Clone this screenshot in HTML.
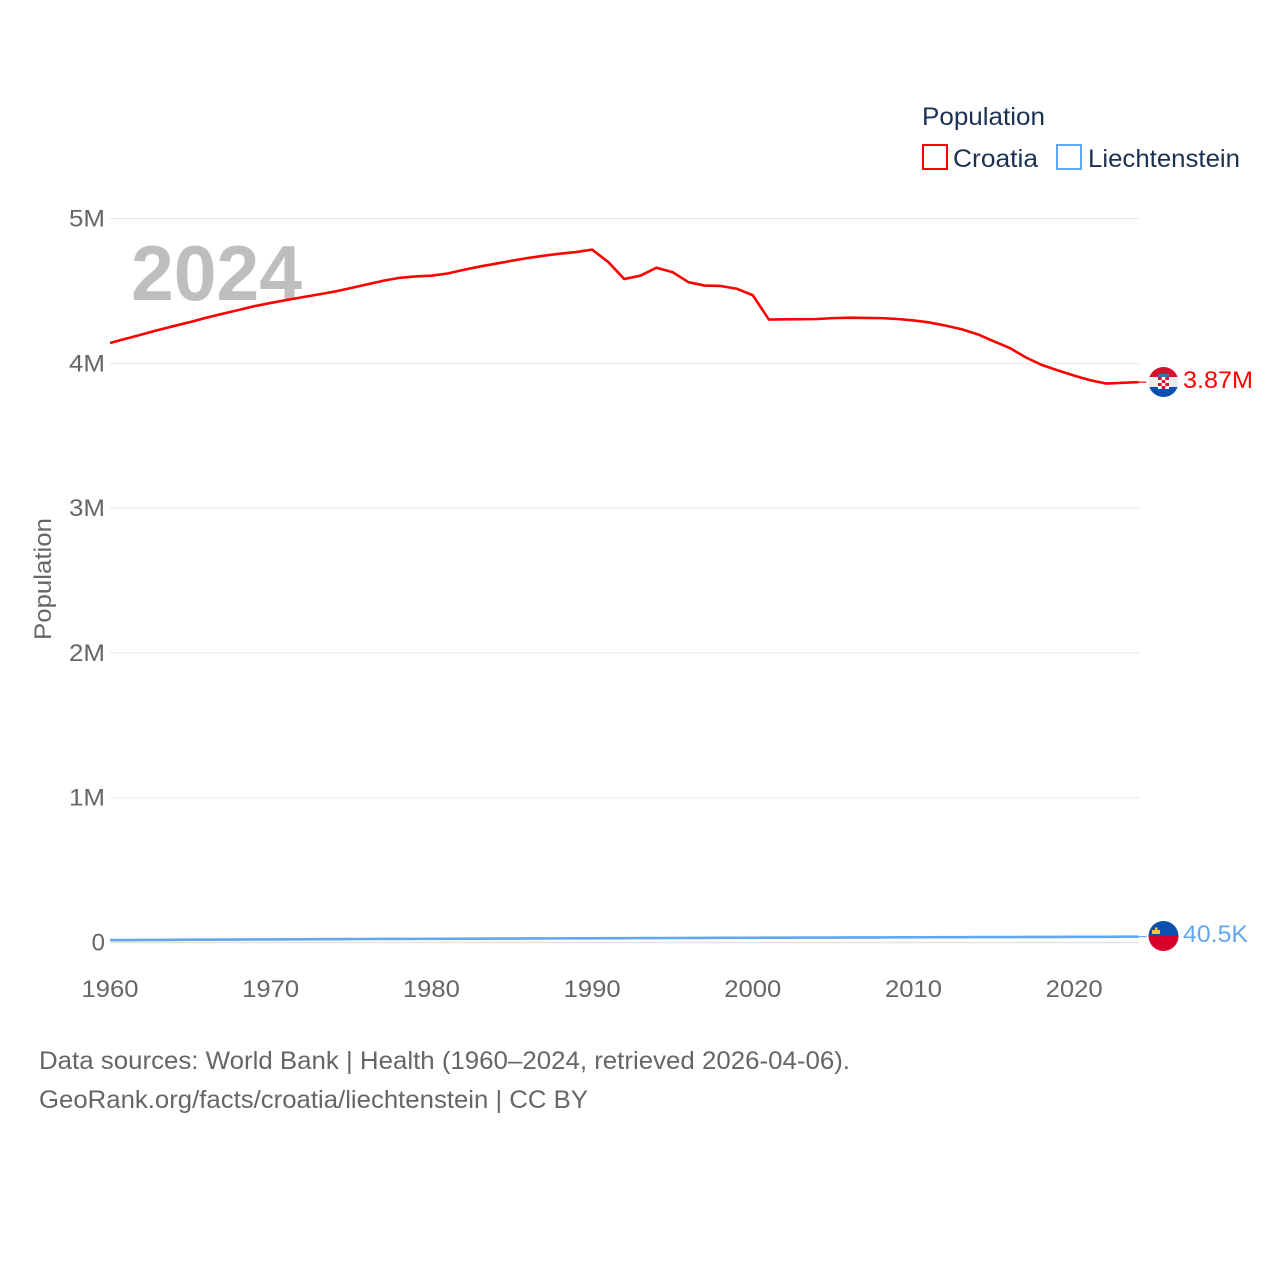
<!DOCTYPE html>
<html lang="en">
<head>
<meta charset="utf-8">
<title>Population: Croatia and Liechtenstein</title>
<style>
html,body{margin:0;padding:0;background:#fff}
svg{display:block}
text{font-family:"Liberation Sans",sans-serif}
</style>
</head>
<body>
<svg id="chart" width="1280" height="1280" viewBox="0 0 1280 1280" xmlns="http://www.w3.org/2000/svg">
  <g id="grid"></g>
  <g id="yticks"></g>
  <g id="xticks"></g>
  <text transform="translate(51,640) rotate(-90)" font-size="24" fill="#666" textLength="122" lengthAdjust="spacingAndGlyphs">Population</text>
  <text x="131" y="300" font-size="78" font-weight="700" fill="#bebebe" textLength="171" lengthAdjust="spacingAndGlyphs">2024</text>
  <g id="series"></g>

  <g>
    <clipPath id="clip-hr"><circle cx="1163.5" cy="382" r="15"/></clipPath>
    <g clip-path="url(#clip-hr)">
      <rect x="1148" y="367" width="31" height="10" fill="#d4122e"/>
      <rect x="1148" y="377" width="31" height="10" fill="#eeeeee"/>
      <rect x="1148" y="387" width="31" height="10" fill="#0a50b0"/>
      <rect x="1158" y="374" width="11" height="3" fill="#3a6fc0"/>
      <rect x="1158" y="377" width="11" height="12" fill="#fff"/>
      <rect x="1158" y="377" width="3.7" height="3" fill="#d4122e"/>
      <rect x="1165.3" y="377" width="3.7" height="3" fill="#d4122e"/>
      <rect x="1161.7" y="380" width="3.6" height="3" fill="#d4122e"/>
      <rect x="1158" y="383" width="3.7" height="3" fill="#d4122e"/>
      <rect x="1165.3" y="383" width="3.7" height="3" fill="#d4122e"/>
      <rect x="1161.7" y="386" width="3.6" height="3" fill="#d4122e"/>
    </g>
  </g>
  <g>
    <clipPath id="clip-li"><circle cx="1163.5" cy="936" r="15"/></clipPath>
    <g clip-path="url(#clip-li)">
      <rect x="1148" y="921" width="31" height="15" fill="#0a50b0"/>
      <rect x="1148" y="936" width="31" height="15" fill="#d8002a"/>
      <rect x="1152" y="930" width="8" height="4" fill="#f5c542"/>
      <rect x="1155" y="927.5" width="2.5" height="3" fill="#f5c542"/>
    </g>
  </g>

  <text x="1183" y="388" font-size="24" fill="#ff0000" textLength="70" lengthAdjust="spacingAndGlyphs">3.87M</text>
  <text x="1183" y="942" font-size="24" fill="#62a8f0" textLength="65" lengthAdjust="spacingAndGlyphs">40.5K</text>

  <g>
    <text x="922" y="125" font-size="25" fill="#1a3152" textLength="123" lengthAdjust="spacingAndGlyphs">Population</text>
    <g>
      <rect x="923" y="145" width="24" height="24" fill="#fff" stroke="#ff0000" stroke-width="2"/>
      <text x="953" y="167" font-size="25" fill="#1a3152" textLength="85" lengthAdjust="spacingAndGlyphs">Croatia</text>
    </g>
    <g>
      <rect x="1057" y="145" width="24" height="24" fill="#fff" stroke="#62a8f0" stroke-width="2"/>
      <text x="1088" y="167" font-size="25" fill="#1a3152" textLength="152" lengthAdjust="spacingAndGlyphs">Liechtenstein</text>
    </g>
  </g>

  <text x="39" y="1069" font-size="25" fill="#666" textLength="811" lengthAdjust="spacingAndGlyphs">Data sources: World Bank | Health (1960–2024, retrieved 2026-04-06).</text>
  <text x="39" y="1108" font-size="25" fill="#666" textLength="549" lengthAdjust="spacingAndGlyphs">GeoRank.org/facts/croatia/liechtenstein | CC BY</text>
</svg>
<script>
const years = [1960,1961,1962,1963,1964,1965,1966,1967,1968,1969,1970,1971,1972,1973,1974,1975,1976,1977,1978,1979,1980,1981,1982,1983,1984,1985,1986,1987,1988,1989,1990,1991,1992,1993,1994,1995,1996,1997,1998,1999,2000,2001,2002,2003,2004,2005,2006,2007,2008,2009,2010,2011,2012,2013,2014,2015,2016,2017,2018,2019,2020,2021,2022,2023,2024];
const croatia = [4.14,4.17,4.2,4.23,4.258,4.285,4.315,4.342,4.368,4.395,4.417,4.437,4.457,4.476,4.496,4.52,4.545,4.57,4.59,4.6,4.605,4.62,4.645,4.668,4.688,4.708,4.727,4.743,4.757,4.768,4.785,4.7,4.582,4.605,4.66,4.63,4.56,4.537,4.534,4.515,4.47,4.302,4.304,4.305,4.306,4.312,4.315,4.313,4.312,4.306,4.296,4.282,4.26,4.235,4.2,4.152,4.105,4.04,3.988,3.95,3.915,3.883,3.86,3.865,3.87];
const liechtenstein = [0.0165,0.0169,0.0174,0.018,0.0185,0.0191,0.0196,0.0201,0.0206,0.021,0.0214,0.0218,0.0222,0.0226,0.023,0.0238,0.0242,0.0245,0.0248,0.0251,0.0254,0.0258,0.0262,0.0266,0.027,0.0274,0.0278,0.0281,0.0285,0.0288,0.0291,0.0295,0.0299,0.0303,0.0306,0.031,0.0314,0.0318,0.0321,0.0325,0.0329,0.0332,0.0335,0.0338,0.0341,0.0344,0.0347,0.035,0.0353,0.0356,0.0359,0.0362,0.0365,0.0368,0.0372,0.0375,0.0378,0.0381,0.0384,0.0387,0.039,0.0393,0.0396,0.04,0.0405];
const yTickValues = [0,1,2,3,4,5];
const yTickLabels = ['0','1M','2M','3M','4M','5M'];
const xTickValues = [1960,1970,1980,1990,2000,2010,2020];

const NS = 'http://www.w3.org/2000/svg';
const xScale = function (year) { return 110 + (year - 1960) * 16.07; };
const yScale = function (millions) { return 942.5 - millions * 144.8; };

const grid = document.getElementById('grid');
const yticks = document.getElementById('yticks');
const xticks = document.getElementById('xticks');
const seriesGroup = document.getElementById('series');

yTickValues.forEach(function (v, i) {
  const line = document.createElementNS(NS, 'line');
  
  
  line.setAttribute('x1', 110);
  line.setAttribute('x2', 1139);
  line.setAttribute('y1', yScale(v));
  line.setAttribute('y2', yScale(v));
  line.setAttribute('stroke', v === 0 ? '#e2e2e2' : '#e8e8e8');
  line.setAttribute('stroke-width', v === 0 ? 1.5 : 1);
  grid.appendChild(line);

  const t = document.createElementNS(NS, 'text');
  
  
  t.setAttribute('x', 105);
  t.setAttribute('y', yScale(v) + 8);
  t.setAttribute('text-anchor', 'end');
  t.setAttribute('font-size', 24);
  t.setAttribute('fill', '#666');
  if (yTickLabels[i].length > 1) {
    t.setAttribute('textLength', 36);
    t.setAttribute('lengthAdjust', 'spacingAndGlyphs');
  }
  t.textContent = yTickLabels[i];
  yticks.appendChild(t);
});

xTickValues.forEach(function (year) {
  const t = document.createElementNS(NS, 'text');
  
  
  t.setAttribute('x', xScale(year));
  t.setAttribute('y', 997);
  t.setAttribute('text-anchor', 'middle');
  t.setAttribute('font-size', 24);
  t.setAttribute('fill', '#666');
  t.setAttribute('textLength', 57);
  t.setAttribute('lengthAdjust', 'spacingAndGlyphs');
  t.textContent = String(year);
  xticks.appendChild(t);
});

function drawSeries(values, color) {
  const d = values.map(function (v, i) {
    return (i ? 'L' : 'M') + xScale(years[i]).toFixed(2) + ' ' + yScale(v).toFixed(2);
  }).join(' ');
  const path = document.createElementNS(NS, 'path');
  
  
  path.setAttribute('d', d);
  path.setAttribute('fill', 'none');
  path.setAttribute('stroke', color);
  path.setAttribute('stroke-width', 2.6);
  path.setAttribute('stroke-linejoin', 'round');
  seriesGroup.appendChild(path);

  const lastY = yScale(values[values.length - 1]);
  const lastX = xScale(years[years.length - 1]);
  const conn = document.createElementNS(NS, 'line');
  
  
  conn.setAttribute('x1', lastX);
  conn.setAttribute('x2', lastX + 8);
  conn.setAttribute('y1', lastY);
  conn.setAttribute('y2', lastY);
  conn.setAttribute('stroke', color);
  conn.setAttribute('stroke-width', 1.2);
  seriesGroup.appendChild(conn);
}
drawSeries(liechtenstein, '#62a8f0');
drawSeries(croatia, '#ff0000');
</script>
</body>
</html>
